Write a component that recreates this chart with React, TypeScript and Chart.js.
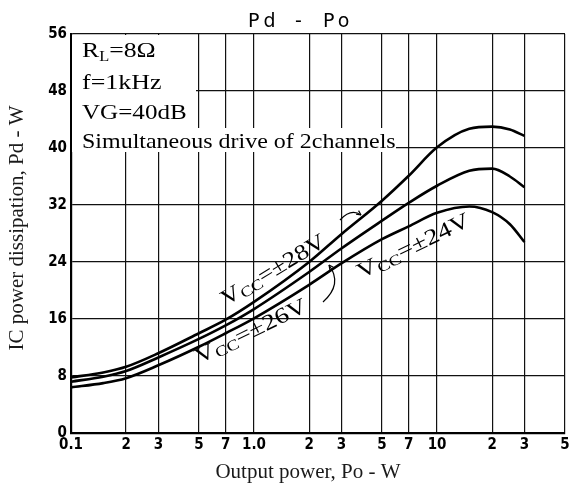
import React, { useEffect, useRef } from 'react';
import { Chart, registerables } from 'chart.js';

Chart.register(...registerables);

// Output power Po (W) sampled along the curves
const outputPowerW = [0.1, 0.15, 0.2, 0.3, 0.5, 0.7, 1, 2, 3, 5, 7, 10, 15, 20, 25, 30];
// IC power dissipation Pd (W) for each supply voltage
const pdVcc28 = [7.8, 8.5, 9.3, 11.2, 14.0, 15.9, 18.4, 24.0, 27.9, 32.6, 36.1, 40.1, 42.7, 43.0, 42.6, 41.7];
const pdVcc26 = [7.2, 7.9, 8.7, 10.6, 13.2, 15.1, 17.4, 22.6, 25.9, 29.8, 32.3, 34.7, 36.8, 37.1, 36.0, 34.5];
const pdVcc24 = [6.4, 7.0, 7.7, 9.5, 12.1, 14.0, 16.1, 20.8, 23.8, 27.2, 29.0, 30.9, 31.8, 31.0, 29.3, 26.8];

const xTickValues = [0.1, 0.2, 0.3, 0.5, 0.7, 1, 2, 3, 5, 7, 10, 20, 30, 50];
const xTickLabels = ['0.1', '2', '3', '5', '7', '1.0', '2', '3', '5', '7', '10', '2', '3', '5'];
const yTickValues = [0, 8, 16, 24, 32, 40, 48, 56];

const conditionLines = ['f=1kHz', 'VG=40dB', 'Simultaneous drive of 2channels'];
const seriesLabels = ['±28V', '±26V', '±24V'];

const SERIF = '"Liberation Serif", "Times New Roman", serif';
const TICK_FONT = '"DejaVu Sans Condensed", "DejaVu Sans", sans-serif';

type Run = [string, number, number];

function drawRuns(ctx: CanvasRenderingContext2D, x: number, y: number, runs: Run[], sx: number, angle: number, family: string) {
  ctx.save();
  ctx.translate(x, y);
  ctx.rotate(angle);
  ctx.scale(sx, 1);
  let cx = 0;
  for (const [t, size, dy] of runs) {
    ctx.font = `${size}px ${family}`;
    ctx.fillText(t, cx, dy);
    cx += ctx.measureText(t).width;
  }
  ctx.restore();
}

function arrowHead(ctx: CanvasRenderingContext2D, x: number, y: number, ang: number, len: number) {
  ctx.beginPath();
  ctx.moveTo(x, y);
  ctx.lineTo(x - len * Math.cos(ang - 0.45), y - len * Math.sin(ang - 0.45));
  ctx.moveTo(x, y);
  ctx.lineTo(x - len * Math.cos(ang + 0.45), y - len * Math.sin(ang + 0.45));
  ctx.stroke();
}

const annotationPlugin = {
  id: 'pdAnnotations',
  beforeDatasetsDraw(chart: any) {
    const ctx: CanvasRenderingContext2D = chart.ctx;
    ctx.save();
    ctx.fillStyle = '#ffffff';
    ctx.fillRect(72, 35, 124, 93);
    ctx.fillRect(72, 128, 324, 24);
    ctx.fillStyle = '#000000';
    ctx.textBaseline = 'alphabetic';
    drawRuns(ctx, 82, 57, [['R', 22, 0], ['L', 14, 4], ['=8Ω', 22, 0]], 1.17, 0, SERIF);
    drawRuns(ctx, 82, 89, [[conditionLines[0], 22, 0]], 1.18, 0, SERIF);
    drawRuns(ctx, 82, 119, [[conditionLines[1], 22, 0]], 1.14, 0, SERIF);
    drawRuns(ctx, 82, 148, [[conditionLines[2], 22, 0]], 1.09, 0, SERIF);
    ctx.restore();
  },
  afterDatasetsDraw(chart: any) {
    const ctx: CanvasRenderingContext2D = chart.ctx;
    ctx.save();
    ctx.fillStyle = '#000000';
    ctx.textBaseline = 'alphabetic';
    const vcc = (lbl: string): Run[] => [['V', 22, 0], ['CC', 15, 3], ['=' + lbl, 22, 0]];
    drawRuns(ctx, 226, 306, vcc(seriesLabels[0]), 1.2, -31 * Math.PI / 180, SERIF);
    drawRuns(ctx, 199, 364, vcc(seriesLabels[1]), 1.24, -26 * Math.PI / 180, SERIF);
    drawRuns(ctx, 361, 279, vcc(seriesLabels[2]), 1.25, -26 * Math.PI / 180, SERIF);

    ctx.strokeStyle = '#000000';
    ctx.lineWidth = 1.2;
    // arrow to the 28V curve
    ctx.beginPath();
    ctx.moveTo(340, 220);
    ctx.quadraticCurveTo(351, 208, 361, 215);
    ctx.stroke();
    arrowHead(ctx, 361, 215, Math.atan2(7, 10), 5);
    // bracket to the 26V curve
    ctx.beginPath();
    ctx.moveTo(329, 265);
    ctx.quadraticCurveTo(343, 284, 323, 302);
    ctx.stroke();
    arrowHead(ctx, 329, 265, Math.atan2(-19, -14), 5);
    ctx.restore();
  },
  afterDraw(chart: any) {
    const ctx: CanvasRenderingContext2D = chart.ctx;
    ctx.save();
    ctx.fillStyle = '#000000';
    ctx.textBaseline = 'alphabetic';
    // main title
    ctx.font = '19px "DejaVu Sans", sans-serif';
    (ctx as any).letterSpacing = '4px';
    ctx.fillText('Pd', 248, 27);
    ctx.fillText('-', 295, 27);
    ctx.fillText('Po', 323, 27);
    (ctx as any).letterSpacing = '0px';
    // axis titles
    ctx.fillStyle = '#1a1a1a';
    ctx.font = `21px ${SERIF}`;
    ctx.textAlign = 'center';
    ctx.fillText('Output power, Po - W', 308, 478);
    ctx.save();
    ctx.translate(23, 228);
    ctx.rotate(-Math.PI / 2);
    ctx.fillText('IC power dissipation, Pd - W', 0, 0);
    ctx.restore();
    ctx.restore();
  },
};

export default function App() {
  const canvasRef = useRef<HTMLCanvasElement | null>(null);

  useEffect(() => {
    const canvas = canvasRef.current;
    if (!canvas) return;
    const mk = (data: number[]) => outputPowerW.map((x, i) => ({ x, y: data[i] }));
    const ds = (data: number[], label: string) => ({
      label,
      data: mk(data),
      borderColor: '#000000',
      borderWidth: 2.6,
      pointRadius: 0,
      fill: false,
      cubicInterpolationMode: 'monotone' as const,
    });
    const chart = new Chart(canvas, {
      type: 'line',
      data: {
        datasets: [ds(pdVcc28, seriesLabels[0]), ds(pdVcc26, seriesLabels[1]), ds(pdVcc24, seriesLabels[2])],
      },
      options: {
        animation: false,
        responsive: false,
        devicePixelRatio: 1,
        layout: { padding: { top: 34, right: 4, bottom: 0, left: 0 } },
        plugins: { legend: { display: false }, tooltip: { enabled: false }, title: { display: false } },
        scales: {
          x: {
            type: 'logarithmic',
            min: 0.1,
            max: 50,
            afterBuildTicks: (scale: any) => {
              scale.ticks = xTickValues.map((v) => ({ value: v }));
            },
            afterFit: (scale: any) => {
              scale.height = 57;
              scale.paddingLeft = 0;
              scale.paddingRight = 0;
            },
            grid: { color: '#111111', lineWidth: 1.2, drawTicks: false },
            border: { display: true, color: '#000000', width: 2.2 },
            ticks: {
              autoSkip: false,
              maxRotation: 0,
              padding: 3,
              color: '#000000',
              font: { family: TICK_FONT, weight: 'bold', size: 15 },
              callback: (_v: any, i: number) => xTickLabels[i],
            },
          },
          y: {
            type: 'linear',
            min: 0,
            max: 56,
            afterBuildTicks: (scale: any) => {
              scale.ticks = yTickValues.map((v) => ({ value: v }));
            },
            afterFit: (scale: any) => {
              scale.width = 71;
              scale.paddingTop = 0;
              scale.paddingBottom = 0;
            },
            grid: { color: '#111111', lineWidth: 1.2, drawTicks: false },
            border: { display: true, color: '#000000', width: 2.2 },
            ticks: {
              padding: 4,
              color: '#000000',
              font: { family: TICK_FONT, weight: 'bold', size: 15 },
              callback: (v: any) => String(v),
            },
          },
        },
      },
      plugins: [annotationPlugin],
    } as any);
    return () => chart.destroy();
  }, []);

  return (
    <div style={{ position: 'absolute', left: 0, top: 0, width: 569, height: 490, background: '#fff' }}>
      <canvas ref={canvasRef} width={569} height={490} style={{ display: 'block', width: 569, height: 490 }} />
    </div>
  );
}
